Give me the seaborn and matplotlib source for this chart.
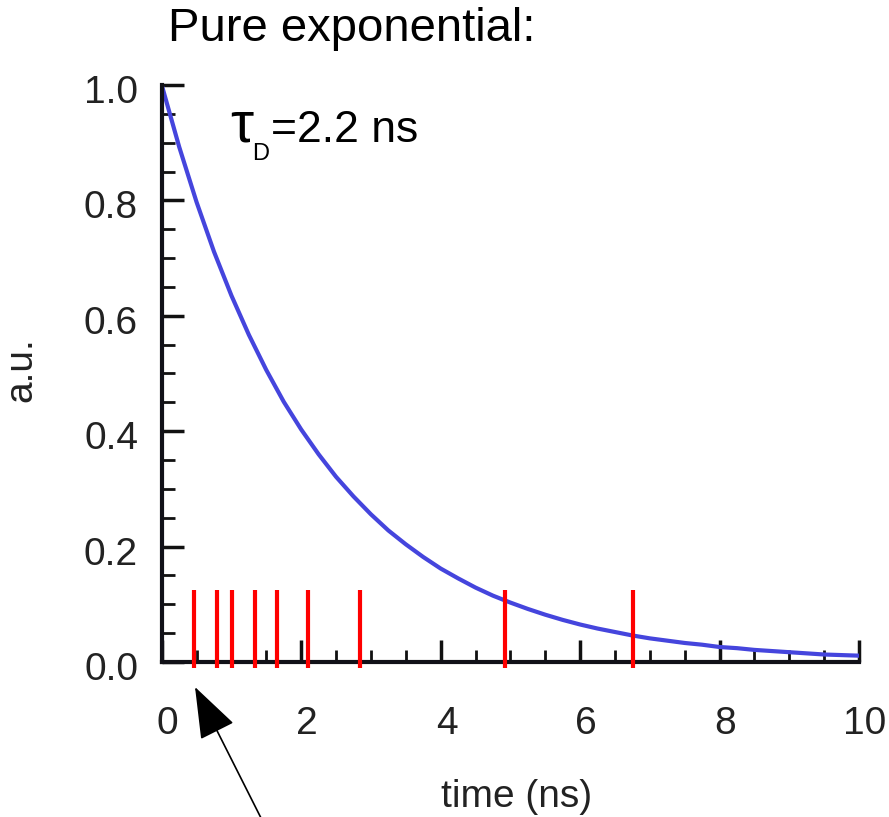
import matplotlib
matplotlib.use("Agg")
import matplotlib.pyplot as plt
import matplotlib.transforms as mtransforms
import seaborn as sns
import pandas as pd
from matplotlib.ticker import MultipleLocator

# ---- data ----
time_ns = [0.0, 0.25, 0.5, 0.75, 1.0, 1.25, 1.5, 1.75, 2.0, 2.25, 2.5, 2.75,
           3.0, 3.25, 3.5, 3.75, 4.0, 4.25, 4.5, 4.75, 5.0, 5.25, 5.5, 5.75,
           6.0, 6.25, 6.5, 6.75, 7.0, 7.25, 7.5, 7.75, 8.0, 8.25, 8.5, 8.75,
           9.0, 9.25, 9.5, 9.75, 10.0]
intensity = [1.000, 0.893, 0.797, 0.711, 0.635, 0.567, 0.506, 0.451, 0.403,
             0.360, 0.321, 0.287, 0.256, 0.228, 0.204, 0.182, 0.162, 0.145,
             0.129, 0.115, 0.103, 0.092, 0.082, 0.073, 0.065, 0.058, 0.052,
             0.046, 0.041, 0.037, 0.033, 0.030, 0.026, 0.024, 0.021, 0.019,
             0.017, 0.015, 0.013, 0.012, 0.011]
photon_times = [0.47, 0.80, 1.01, 1.34, 1.66, 2.10, 2.85, 4.92, 6.76]
photon_bottom = -0.01
photon_top = 0.125
x_ticks = [0, 2, 4, 6, 8, 10]
y_ticks = [0.0, 0.2, 0.4, 0.6, 0.8, 1.0]
title_text = "Pure exponential:"
tau_symbol = "\u03c4"
tau_sub = "D"
tau_value = "=2.2 ns"
x_label = "time (ns)"
y_label = "a.u."

sns.set_theme(style="white")
plt.rcParams['font.family'] = ['Liberation Sans', 'DejaVu Sans']

W, H = 889, 817
fig = plt.figure(figsize=(W / 100, H / 100), dpi=100)
ax = fig.add_axes([0.1819, 0.1897, 0.7844, 0.7063])

df = pd.DataFrame({"t": time_ns, "y": intensity})
sns.lineplot(data=df, x="t", y="y", ax=ax, color="#4545dd", linewidth=3.0)

ax.vlines(photon_times, photon_bottom, photon_top, color="#ff0000",
          linewidth=3.0, zorder=5, clip_on=False)

ax.set_xlim(0, 10)
ax.set_ylim(0, 1.0)
ax.set_xticks(x_ticks)
ax.set_xticklabels([str(v) for v in x_ticks])
ax.set_yticks(y_ticks)
ax.set_yticklabels([f"{v:.1f}" for v in y_ticks])
ax.xaxis.set_minor_locator(MultipleLocator(0.5))
ax.yaxis.set_minor_locator(MultipleLocator(0.05))

for s in ["top", "right"]:
    ax.spines[s].set_visible(False)
for s in ["left", "bottom"]:
    ax.spines[s].set_color("#111118")
    ax.spines[s].set_linewidth(3.0)

ax.tick_params(axis="both", which="major", direction="in", length=16,
               width=2.5, color="#111111", labelsize=28, labelcolor="#222222")
ax.tick_params(axis="both", which="minor", direction="in", length=9,
               width=2.0, color="#111111")
ax.tick_params(axis="x", which="major", pad=32)
ax.tick_params(axis="y", which="major", pad=17)
ax.tick_params(axis="both", which="both", bottom=True, left=True)

# small offsets seen in the reference tick labels
dx = mtransforms.ScaledTranslation(6 / 100, 0, fig.dpi_scale_trans)
for lab in ax.get_xticklabels():
    lab.set_transform(lab.get_transform() + dx)
dy = mtransforms.ScaledTranslation(0, -4 / 100, fig.dpi_scale_trans)
for lab in ax.get_yticklabels():
    lab.set_transform(lab.get_transform() + dy)

ax.set_xlabel(x_label, fontsize=28, color="#222222")
ax.set_ylabel(y_label, fontsize=28, color="#222222")
ax.xaxis.set_label_coords(0.5095, -0.202)
ax.yaxis.set_label_coords(-0.175, 0.506)

fig.text(168 / W, 1 - 41 / H, title_text, fontsize=34, ha="left",
         va="baseline", color="#000000")

# tau_D annotation
fig.text(242 / W, 1 - 142 / H, tau_symbol, fontsize=42, ha="center",
         va="baseline", color="#000")
fig.text(261 / W, 1 - 160 / H, tau_sub, fontsize=17, ha="center",
         va="baseline", color="#000")
fig.text(271 / W, 1 - 142 / H, tau_value, fontsize=32, ha="left",
         va="baseline", color="#000")

# arrow pointing at first photon
fig.add_artist(matplotlib.patches.FancyArrowPatch(
    posA=(262 / W, 1 - 820 / H), posB=(195 / W, 1 - 687 / H),
    transform=fig.transFigure, arrowstyle="-|>,head_length=1.65,head_width=0.6",
    mutation_scale=20, color="#000000", linewidth=1.2, shrinkA=0, shrinkB=0))

fig.savefig("out.png", dpi=100, facecolor="white")
